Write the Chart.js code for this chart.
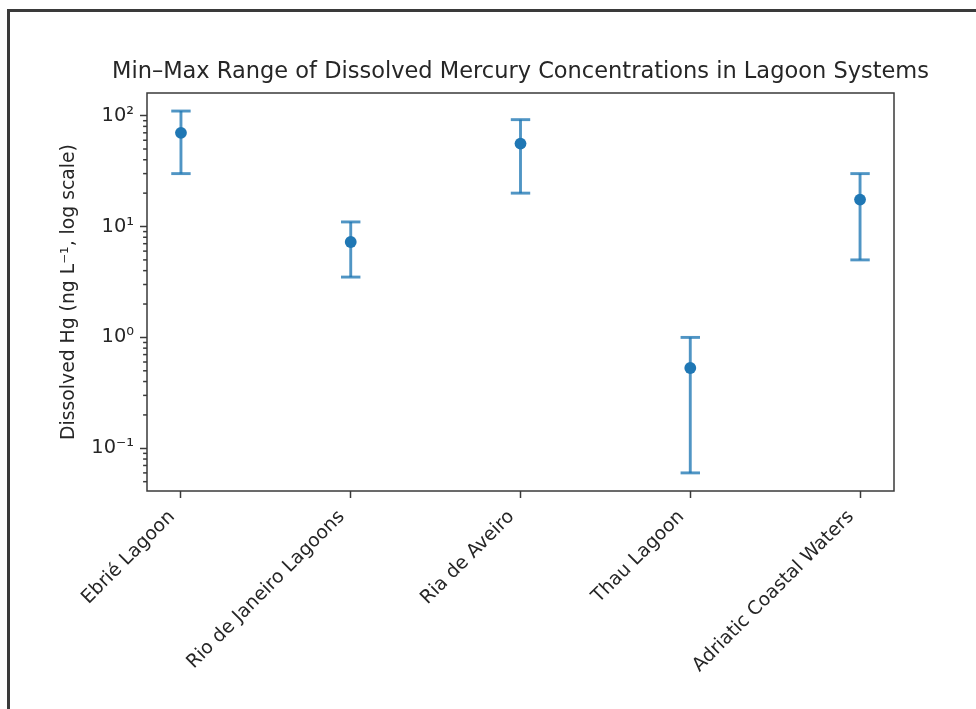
<!DOCTYPE html>
<html>
<head>
<meta charset="utf-8">
<script src="https://cdn.jsdelivr.net/npm/chart.js@4.4.1/dist/chart.umd.min.js"></script>
<style>
  html, body { margin: 0; padding: 0; background: #ffffff; }
  #wrap { position: relative; width: 976px; height: 709px; overflow: hidden; background: #fff; }
  #frame { position: absolute; left: 7px; top: 9px; width: 1000px; height: 800px;
           border-top: 3px solid #3a3a3a; border-left: 3px solid #3a3a3a; box-sizing: border-box; }
  #c { position: absolute; left: 0; top: 0; }
</style>
</head>
<body>
<div id="wrap">
  <div id="frame"></div>
  <canvas id="c" width="976" height="709"></canvas>
</div>
<script>
// ---- data ----
const categories = ["Ebrié Lagoon", "Rio de Janeiro Lagoons", "Ria de Aveiro", "Thau Lagoon", "Adriatic Coastal Waters"];
const minVals = [30, 3.5, 20, 0.06, 5];
const maxVals = [110, 11, 92, 1.0, 30];
const midVals = [70, 7.25, 56, 0.53, 17.5];
const yMajorTicks = [0.1, 1, 10, 100];
const yTickLabels = ["10⁻¹", "10⁰", "10¹", "10²"];
const yMinorTicks = [0.05, 0.06, 0.07, 0.08, 0.09,
                     0.2, 0.3, 0.4, 0.5, 0.6, 0.7, 0.8, 0.9,
                     2, 3, 4, 5, 6, 7, 8, 9,
                     20, 30, 40, 50, 60, 70, 80, 90];
const titleText = "Min–Max Range of Dissolved Mercury Concentrations in Lagoon Systems";
const yTitleText = "Dissolved Hg (ng L⁻¹, log scale)";

const FONT = "'DejaVu Sans', 'Liberation Sans', sans-serif";
const TEXT = "#262626";
const AXIS = "#3a3a3a";
const BLUE = "#1f77b4";
const BAR = "rgba(31,119,180,0.78)";

const datasets = [];
datasets.push({
  type: 'scatter',
  label: 'mid',
  order: 0,
  data: midVals.map((v, i) => ({ x: i, y: v })),
  pointRadius: 5.9,
  pointHoverRadius: 5.9,
  backgroundColor: BLUE,
  borderWidth: 0
});
categories.forEach((c, i) => {
  datasets.push({
    type: 'line',
    label: c,
    order: 1,
    data: [{ x: i, y: minVals[i] }, { x: i, y: maxVals[i] }],
    showLine: true,
    borderColor: BAR,
    borderWidth: 2.9,
    pointStyle: 'line',
    pointRadius: 9.7,
    pointHoverRadius: 9.7,
    pointBorderColor: BAR,
    pointBorderWidth: 2.9,
    fill: false
  });
});

const framePlugin = {
  id: 'frameAndMinor',
  afterLayout(chart) {
    // centre the title over the plot area without squeezing it to the plot width
    const a = chart.chartArea, t = chart.titleBlock;
    if (t) {
      const cx = (a.left + a.right) / 2;
      t.left = cx - 480;
      t.right = cx + 480;
      t.width = 960;
    }
  },
  afterDraw(chart) {
    const { ctx, chartArea: a, scales } = chart;
    ctx.save();
    ctx.strokeStyle = AXIS;
    ctx.lineWidth = 1.5;
    yMinorTicks.forEach(v => {
      const py = scales.y.getPixelForValue(v);
      if (py < a.top || py > a.bottom) return;
      ctx.beginPath();
      ctx.moveTo(a.left - 3.9, py);
      ctx.lineTo(a.left, py);
      ctx.stroke();
    });
    ctx.strokeRect(a.left, a.top, a.right - a.left, a.bottom - a.top);
    ctx.restore();
  }
};

new Chart(document.getElementById('c'), {
  data: { datasets },
  options: {
    responsive: false,
    animation: false,
    devicePixelRatio: 1,
    layout: { padding: { left: 0, right: 82, top: 0, bottom: 0 } },
    plugins: {
      legend: { display: false },
      tooltip: { enabled: false },
      title: {
        display: true,
        text: titleText,
        fullSize: false,
        color: TEXT,
        font: { family: FONT, size: 22.5, weight: 'normal', lineHeight: 1.2 },
        padding: { top: 58.5, bottom: 7.5 }
      }
    },
    scales: {
      x: {
        type: 'linear',
        min: -0.2,
        max: 4.2,
        afterBuildTicks(scale) { scale.ticks = categories.map((c, i) => ({ value: i })); },
        afterFit(scale) { scale.height = 218; },
        border: { display: false },
        grid: { drawOnChartArea: false, drawTicks: true, tickLength: 7, tickColor: AXIS, tickWidth: 1.5 },
        ticks: {
          autoSkip: false,
          minRotation: 45,
          maxRotation: 45,
          padding: 8,
          labelOffset: -9,
          color: TEXT,
          font: { family: FONT, size: 18.8 },
          callback: (v) => categories[v]
        }
      },
      y: {
        type: 'logarithmic',
        min: 0.0412,
        max: 160,
        bounds: 'data',
        afterBuildTicks(scale) { scale.ticks = yMajorTicks.map(v => ({ value: v, major: true })); },
        afterFit(scale) { scale.width = 147; },
        border: { display: false },
        grid: { drawOnChartArea: false, drawTicks: true, tickLength: 7, tickColor: AXIS, tickWidth: 1.5 },
        ticks: {
          autoSkip: false,
          padding: 6,
          color: TEXT,
          font: { family: FONT, size: 19.4 },
          callback: (v) => { const k = yMajorTicks.indexOf(v); return k >= 0 ? yTickLabels[k] : ''; }
        },
        title: {
          display: true,
          text: yTitleText,
          color: TEXT,
          font: { family: FONT, size: 18.8, weight: 'normal', lineHeight: 1.2 },
          padding: { top: 57.7, bottom: 0 }
        }
      }
    }
  },
  plugins: [framePlugin]
});
</script>
</body>
</html>
